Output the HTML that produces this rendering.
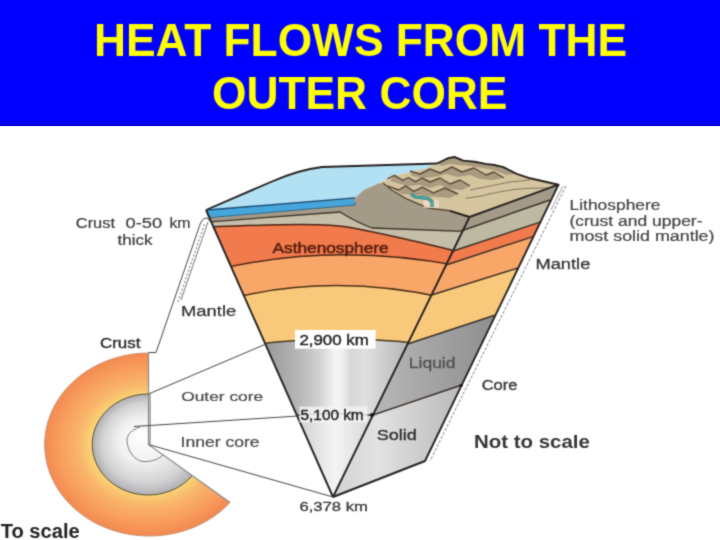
<!DOCTYPE html>
<html><head><meta charset="utf-8">
<style>
html,body{margin:0;padding:0;background:#fff;}
body{width:720px;height:540px;overflow:hidden;position:relative;font-family:"Liberation Sans",sans-serif;}
svg{position:absolute;left:0;top:0;}
</style></head>
<body>
<svg width="720" height="540" viewBox="0 0 720 540" font-family="Liberation Sans, sans-serif">
<defs>
  <filter id="bl" x="0" y="0" width="720" height="540" filterUnits="userSpaceOnUse" color-interpolation-filters="sRGB"><feConvolveMatrix order="3" kernelMatrix="1 4 1 4 16 4 1 4 1" divisor="36" edgeMode="none"/></filter>
  <filter id="bl2" x="0" y="0" width="720" height="126" filterUnits="userSpaceOnUse" color-interpolation-filters="sRGB"><feConvolveMatrix order="3" kernelMatrix="1 4 1 4 16 4 1 4 1" divisor="36" edgeMode="duplicate"/></filter>
  <linearGradient id="hb" x1="0" x2="0" y1="0" y2="1">
    <stop offset="0" stop-color="#0000fe"/>
    <stop offset="0.6" stop-color="#0000ee"/>
    <stop offset="1" stop-color="#0000c8"/>
  </linearGradient>
  <clipPath id="ff"><polygon points="206,210 355,198 469.5,217 333,497"/></clipPath>
  <linearGradient id="oc" x1="255" x2="420" y1="0" y2="0" gradientUnits="userSpaceOnUse">
    <stop offset="0" stop-color="#909090"/>
    <stop offset="0.109" stop-color="#a0a0a0"/>
    <stop offset="0.273" stop-color="#b8b8b8"/>
    <stop offset="0.394" stop-color="#d2d2d2"/>
    <stop offset="0.485" stop-color="#f4f4f4"/>
    <stop offset="0.527" stop-color="#f0f0f0"/>
    <stop offset="0.582" stop-color="#d6d6d6"/>
    <stop offset="0.667" stop-color="#e0e0e0"/>
    <stop offset="0.818" stop-color="#c8c8c8"/>
    <stop offset="0.939" stop-color="#b2b2b2"/>
  </linearGradient>
  <linearGradient id="ic" x1="290" x2="380" y1="0" y2="0" gradientUnits="userSpaceOnUse">
    <stop offset="0" stop-color="#c8c8c8"/>
    <stop offset="0.5" stop-color="#f4f4f4"/>
    <stop offset="1" stop-color="#d0d0d0"/>
  </linearGradient>
  <linearGradient id="liq" x1="0" x2="1" y1="0" y2="0">
    <stop offset="0" stop-color="#b8b8b8"/>
    <stop offset="1" stop-color="#8e8e8e"/>
  </linearGradient>
  <linearGradient id="sol" x1="333" x2="462" y1="0" y2="0" gradientUnits="userSpaceOnUse">
    <stop offset="0" stop-color="#d2d2d2"/>
    <stop offset="0.35" stop-color="#e2e2e2"/>
    <stop offset="0.5" stop-color="#d8d8d8"/>
    <stop offset="1" stop-color="#bababa"/>
  </linearGradient>
  <radialGradient id="sm" cx="148.5" cy="444.5" r="104.5" gradientUnits="userSpaceOnUse" gradientTransform="translate(148.5 444.5) scale(1 0.87) translate(-148.5 -444.5)">
    <stop offset="0.53" stop-color="#f9d87c"/>
    <stop offset="0.58" stop-color="#f9cc72"/>
    <stop offset="0.68" stop-color="#f9b46a"/>
    <stop offset="0.85" stop-color="#f89e5e"/>
    <stop offset="1" stop-color="#f38a50"/>
  </radialGradient>
  <radialGradient id="sc" cx="148.5" cy="444.5" r="56" fx="140" fy="436" gradientUnits="userSpaceOnUse" gradientTransform="translate(148.5 444.5) scale(1 0.9) translate(-148.5 -444.5)">
    <stop offset="0" stop-color="#ffffff"/>
    <stop offset="0.45" stop-color="#f0f0f0"/>
    <stop offset="0.8" stop-color="#d2d2d4"/>
    <stop offset="1" stop-color="#b0b0b4"/>
  </radialGradient>
</defs>

<!-- header -->
<rect x="0" y="0" width="720" height="126" fill="#0000fe"/>
<rect x="0" y="121" width="720" height="4.8" fill="url(#hb)"/>
<rect x="0" y="126" width="720" height="1" fill="#e8eaff"/>
<g filter="url(#bl2)">
<text x="360.5" y="56.2" text-anchor="middle" font-size="46" font-weight="bold" fill="#ffff00" textLength="533" lengthAdjust="spacingAndGlyphs">HEAT FLOWS FROM THE</text>
<text x="359.7" y="108.5" text-anchor="middle" font-size="46" font-weight="bold" fill="#ffff00" textLength="295.5" lengthAdjust="spacingAndGlyphs">OUTER CORE</text>
</g>

<g id="diagram" filter="url(#bl)">
<!-- small earth -->
<path d="M148.5,444.5 L148.5,353 A104.5,91.5 0 1 0 230,502.5 Z" fill="url(#sm)"/>
<path d="M148.5,353 A104.5,91.5 0 1 0 230,502.5" fill="none" stroke="#c89070" stroke-width="1"/>
<path d="M148.5,444.5 L148.5,394 A56,50.5 0 1 0 192,476 Z" fill="url(#sc)"/>
<path d="M148.5,394 A56,50.5 0 1 0 192,476" fill="none" stroke="#5a5030" stroke-width="1"/>
<path d="M140,427 C133,429 127,434 127,440 C127,452 136,461 143,461.5 C150,462 158,460 163,455" fill="none" stroke="#7a7a7a" stroke-width="1"/>
<polyline points="148.5,353 148.5,444.5 230,502.5" fill="none" stroke="#8a8a8a" stroke-width="1.2"/>
<line x1="150" y1="394" x2="150" y2="444" stroke="#b0b0b0" stroke-width="2"/>

<!-- front face layers -->
<g clip-path="url(#ff)">
  <rect x="200" y="190" width="280" height="320" fill="#a39b88"/>
  <path d="M200,222.5 L340,212 Q356,222 372,228 L480,232 L480,520 L200,520 Z" fill="#c5bfa9" stroke="#3e3228" stroke-width="1.3"/>
  <path d="M200,227 C260,225.5 320,222 350,227.5 S420,242 480,257 L480,520 L200,520 Z" fill="#f17b4c" stroke="#4a2414" stroke-width="1.5"/>
  <path d="M220,269 Q335,242 460,266 L480,520 L200,520 Z" fill="#f9a768" stroke="#4a2614" stroke-width="1.5"/>
  <path d="M235,297.5 Q335,273.5 445,298 L480,520 L200,520 Z" fill="#f9c97b" stroke="#4a3014" stroke-width="1.5"/>
  <path d="M255,344.5 Q335,334 420,343.5 L480,520 L200,520 Z" fill="url(#oc)" stroke="#4a3a20" stroke-width="1.4"/>
  <path d="M290,416 Q335,411 380,416 L480,520 L200,520 Z" fill="url(#ic)" stroke="#333" stroke-width="1.3"/>
  <!-- ocean band -->
  <polygon points="200,210.5 355,198 355,205 200,218.5" fill="#44a6dc" stroke="#235a80" stroke-width="0.8"/>
</g>

<!-- right face -->
<polygon points="469.5,217 558.5,184.7 550,200 460.8,231" fill="#a39b88"/>
<polygon points="460.8,231 550,200 540.3,222.1 451.6,251.5" fill="#bdb9a3"/>
<polygon points="451.6,251.5 540.3,222.1 533.7,236.3 446.1,265" fill="#f17b4c"/>
<polygon points="446.1,265 533.7,236.3 518,268 431.5,295" fill="#f9a768"/>
<polygon points="431.5,295 518,268 495.5,315 407.6,344" fill="#f9c97b"/>
<polygon points="407.6,344 495.5,315 461.7,385 373,415" fill="url(#liq)"/>
<polygon points="373,415 461.7,385 425,461 333,497" fill="url(#sol)"/>
<g fill="none" stroke="#3a2e28" stroke-width="1.4">
  <polyline points="460.8,231 550,200"/>
  <polyline points="451.6,251.5 540.3,222.1"/>
  <polyline points="446.1,265 533.7,236.3"/>
  <polyline points="431.5,295 518,268"/>
  <polyline points="407.6,344 495.5,315"/>
  <polyline points="373,415 461.7,385"/>
</g>

<!-- ocean surface -->
<path d="M206,210 L272,181.5 Q298,170 322,167 L437,163.5 L427.8,167.8 L401.4,174 L394.4,175.4 L387.5,178.9 L377.8,183.75 L363.9,190 L355,199 Z" fill="#b2e1f4"/>
<!-- land -->
<polygon points="355,199 363.9,190 377.8,183.75 387.5,178.9 394.4,175.4 401.4,174 427.8,167.8 437,163.5 447.8,158.3 454.4,157 463.3,160.6 474.4,161.7 485.6,163.9 494.4,165 503.3,167.2 516.7,173.9 530,178.3 558.5,184.7 469.5,217" fill="#d5c59f"/>
<!-- mountain shading -->
<g fill="#a99b80">
  <polygon points="394.4,175.4 402.8,180.3 408.3,177.5 415.3,181.7 422.2,178.2 430,182 440,178 450,184 460,180 470,186 462,190 450,189 440,185 430,188 420,185 410,186 400,184 390,181"/>
  <polygon points="410,171 420,174 430,169 440,173 452,167 462,172 474,168 486,175 494,172 504,178 492,180 480,179 470,175 458,177 446,174 434,177 422,178 412,176"/>
  <polygon points="437,163.5 447.8,158.3 454.4,157 463.3,160.6 474.4,161.7 485.6,163.9 494.4,165 503.3,167.2 516.7,173.9 506,175 494,170 482,168 470,166 460,165 450,164 442,166"/>
  <polygon points="387.5,185.8 398.6,190 405.6,185.8 413.9,191.4 422.2,187.2 433.3,192.8 445,188 458,194 450,198 438,197 426,196 414,195 402,194"/>
</g>
<polygon points="354,199 363.9,190 377.8,183.75 383,183 391.7,190 405.6,198.3 427.8,208 450,210.8 469.5,217 467,220 354,202" fill="#a39b88"/>
<g fill="none" stroke="#5a4a3a" stroke-width="1.4" stroke-linejoin="round">
  <polyline points="383,183 391.7,190 405.6,198.3 427.8,208 450,210.8 469.5,217"/>
  <polyline points="387.5,178.9 394.4,175.4 402.8,180.3 408.3,177.5 415.3,181.7 422.2,178.2 430,182 440,178 450,184 460,180 470,186"/>
  <polyline points="387.5,185.8 398.6,190 405.6,185.8 413.9,191.4 422.2,187.2 433.3,192.8 445,188 458,194"/>
  <polyline points="410,171 420,174 430,169 440,173 452,167 462,172 474,168 486,175 494,172 504,178"/>
</g>
<g fill="none" stroke="#7a6a56" stroke-width="0.9" stroke-linejoin="round">
  <polyline points="465.6,198.3 481.1,196.1 494.4,192.8 514.4,189.4 530,188.3 548,188"/>
  <polyline points="470,190 490,186 510,182 530,180"/>
  <polyline points="494.4,165 503.3,167.2 516.7,173.9 530,178.3"/>
</g>
<polygon points="423.6,199.7 438.9,200 438.9,208 423.6,208" fill="#f2dccc" opacity="0.75"/>
<path d="M411,194.2 L415.3,197 L427.8,198.3 L432,201.8 L432,206.7" fill="none" stroke="#2f6a70" stroke-width="3.2" stroke-linejoin="round"/>
<path d="M411,194.2 L415.3,197 L427.8,198.3 L432,201.8 L432,206.7" fill="none" stroke="#44b0a8" stroke-width="2" stroke-linejoin="round"/>

<!-- wedge outlines -->
<g fill="none" stroke="#262220" stroke-width="1.9" stroke-linejoin="round">
  <polyline points="206,210 333,497"/>
  <polyline points="469.5,217 333,497"/>
  <polyline points="558.5,184.7 425,461 333,497"/>
  <path d="M206,210 L272,181.5 Q298,170 322,167 L437,163.5"/>
  <polyline points="437,163.5 447.8,158.3 454.4,157 463.3,160.6 474.4,161.7 485.6,163.9 494.4,165 503.3,167.2 516.7,173.9 530,178.3 558.5,184.7 469.5,217 450,210.8"/>
</g>

<polyline points="207,210 355,198" fill="none" stroke="#1f4f78" stroke-width="1.4"/>
<!-- leader lines -->
<g fill="none" stroke="#444" stroke-width="1">
  <path d="M148.5,352.5 L156,352.5 L200.5,223 Q204,216.5 208,218.5 L210.5,222"/>
  <polyline points="148.5,394 266,344"/>
  <polyline points="134,426.5 298,416"/>
  <polyline points="148.5,444.5 333,497"/>
</g>
<path d="M181,300 L208,222" fill="none" stroke="#666" stroke-width="0.9"/>
<path d="M178,302 L204.5,224" fill="none" stroke="#888" stroke-width="1.2" stroke-dasharray="2 2"/>
<polyline points="566,186 430,461" fill="none" stroke="#6d7380" stroke-width="0.9" stroke-dasharray="3 1.5"/>
<polyline points="563,186 551,210" fill="none" stroke="#7d8390" stroke-width="0.8"/>

<!-- labels -->
<g fill="#3a3a3a" stroke="#3a3a3a" stroke-width="0.2" font-size="15">
  <text x="75.8" y="227.5" textLength="39.2" lengthAdjust="spacingAndGlyphs">Crust</text>
  <text x="125.6" y="227.5" textLength="36.5" lengthAdjust="spacingAndGlyphs">0-50</text>
  <text x="169.4" y="227.5" textLength="21.2" lengthAdjust="spacingAndGlyphs">km</text>
  <text x="117.5" y="244.7" textLength="35" lengthAdjust="spacingAndGlyphs">thick</text>
  <text x="181" y="316.4" font-size="14" fill="#333" stroke="#333" stroke-width="0.25" textLength="55.2" lengthAdjust="spacingAndGlyphs">Mantle</text>
  <text x="100" y="348.3" fill="#2c2c2c" stroke="#2c2c2c" stroke-width="0.4" textLength="40.4" lengthAdjust="spacingAndGlyphs">Crust</text>
  <text x="181.2" y="400.6" font-size="13.5" fill="#484848" stroke="#484848" textLength="82" lengthAdjust="spacingAndGlyphs">Outer core</text>
  <text x="180.5" y="446.5" font-size="14" fill="#484848" stroke="#484848" textLength="79.1" lengthAdjust="spacingAndGlyphs">Inner core</text>
  <g fill="#444" stroke="#444" stroke-width="0.2">
  <text x="569.5" y="210" font-size="14" textLength="91" lengthAdjust="spacingAndGlyphs">Lithosphere</text>
  <text x="569.5" y="225.5" font-size="14" textLength="133" lengthAdjust="spacingAndGlyphs">(crust and upper-</text>
  <text x="569.5" y="240.7" font-size="14" textLength="145" lengthAdjust="spacingAndGlyphs">most solid mantle)</text>
  <text x="535.5" y="269.4" font-size="14" stroke-width="0.3" fill="#383838" stroke="#383838" textLength="54.8" lengthAdjust="spacingAndGlyphs">Mantle</text>
  </g>
  <text x="481.7" y="389.9" font-size="14" stroke-width="0.35" textLength="35.6" lengthAdjust="spacingAndGlyphs">Core</text>
  <text x="408.8" y="368.3" font-size="14.5" fill="#505050" stroke="#505050" stroke-width="0.3" textLength="46.7" lengthAdjust="spacingAndGlyphs">Liquid</text>
  <text x="376.7" y="440.3" font-size="15.5" fill="#303030" stroke="#303030" stroke-width="0.35" textLength="40" lengthAdjust="spacingAndGlyphs">Solid</text>
  <text x="299.4" y="511.2" font-size="13" stroke-width="0.3" textLength="68.6" lengthAdjust="spacingAndGlyphs">6,378 km</text>
</g>
<rect x="295" y="330" width="80.6" height="18.7" fill="#fff"/>
<rect x="299.5" y="406.5" width="68" height="16" fill="#f2f2f2" opacity="0.85"/>
<text x="299.4" y="345" font-size="14" fill="#222" stroke="#222" stroke-width="0.4" textLength="69.4" lengthAdjust="spacingAndGlyphs">2,900 km</text>
<text x="300.6" y="420" font-size="15" fill="#222" stroke="#222" stroke-width="0.4" textLength="63" lengthAdjust="spacingAndGlyphs">5,100 km</text>
<circle cx="372" cy="415" r="2" fill="#111"/>
<circle cx="461" cy="385.5" r="1.6" fill="#111"/>
<text x="272.6" y="253.3" font-size="14.5" fill="#5c2010" stroke="#5c2010" stroke-width="0.55" textLength="116" lengthAdjust="spacingAndGlyphs">Asthenosphere</text>
<text x="474" y="447.6" font-size="17.6" font-weight="bold" fill="#363636" textLength="115.9" lengthAdjust="spacingAndGlyphs">Not to scale</text>
<text x="0.7" y="537.5" font-size="19.5" font-weight="bold" fill="#222" textLength="79" lengthAdjust="spacingAndGlyphs">To scale</text>
</g>
</svg>
</body></html>
